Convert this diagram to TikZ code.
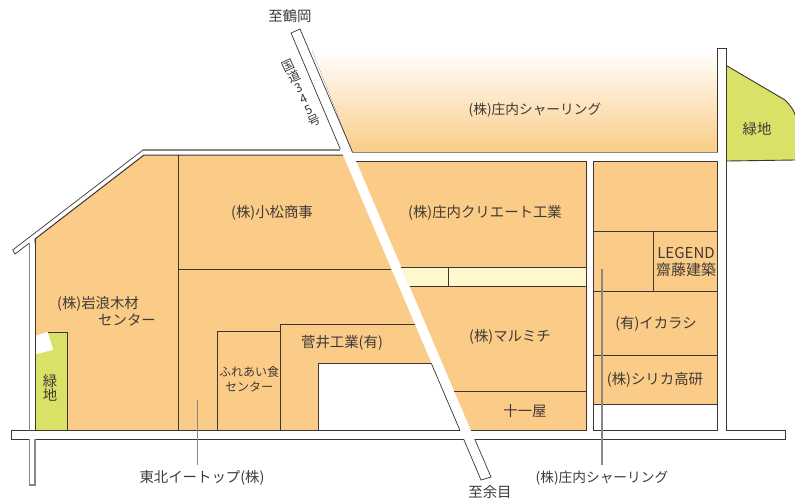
\documentclass[tikz,border=0pt]{standalone}
\usepackage{fontspec}
\usepackage{graphicx}
\setmainfont{Noto Sans CJK JP}
\usetikzlibrary{calc}
\definecolor{plot}{HTML}{FACC87}
\definecolor{band}{HTML}{FFF8CC}
\definecolor{park}{HTML}{D9E166}
\definecolor{ink}{HTML}{3C3531}
\definecolor{edgegray}{HTML}{8C8582}
\definecolor{txt}{HTML}{403A36}
\newcommand{\upch}[1]{\rotatebox[origin=c]{90}{\makebox[14pt]{\rule[-2pt]{0pt}{12pt}#1}}}
\tikzset{
  px/.style={x=1pt,y=-1pt},
  lot/.style={draw=ink,line width=1pt,line join=miter},
  road/.style={draw=ink,line width=0.7pt,line join=miter},
  shade/.style={draw=edgegray,line width=1.5pt},
  lead/.style={draw=edgegray,line width=1.1pt},
  lbl/.style={text=txt,font=\fontsize{14.4}{15}\selectfont,inner sep=0pt,outer sep=0pt,anchor=center},
  sm/.style={lbl,font=\fontsize{12}{13}\selectfont},
  shar/.style={lbl,font=\fontsize{13.7}{15}\selectfont},
}
\begin{document}
\begin{tikzpicture}[px]
\useasboundingbox (0,0) rectangle (795,499);
% gradient lot
\fill[top color=white,bottom color=plot,shading angle=0] (312,50) -- (717.5,50) -- (717.5,152.5) -- (352.6,152.5) -- cycle;
% parks
\fill[park] (726.7,65.7) -- (785,100) .. controls (790,105) and (794,110) .. (795,115) -- (795,160) -- (726.7,161) -- cycle;
\draw[road,line width=0.9pt] (726.7,65.7) -- (785,100) .. controls (790,105) and (794,110) .. (795,115);
\draw[road,line width=0.9pt] (726.7,161) -- (795,160);
% main lots
\fill[plot] (35,239) -- (144,155) -- (342.9,155) -- (460,430.5) -- (35,430.5) -- cycle;
\fill[plot] (356.2,161) -- (586,161) -- (586,430.5) -- (471,430.5) -- cycle;
\fill[plot] (593,161) rectangle (717.7,404.3);
\fill[band] (401.4,267) -- (586,267) -- (586,286) -- (409.5,286) -- cycle;
\fill[park] (35,335.7) -- (47.7,332) -- (67.5,332) -- (67.5,430.5) -- (35,430.5) -- cycle;
\fill[white] (35,335.7) -- (47.7,332) -- (53.3,350) -- (35,354.3) -- cycle;
\fill[white] (318,363.3) -- (431.3,363.3) -- (460,430.5) -- (318,430.5) -- cycle;
% lot lines, left block
\draw[lot] (35,243) -- (35,239) -- (144,155) -- (342.9,155);
\draw[lot] (178,155) -- (178,430.5);
\draw[lot] (178,269) -- (391.3,269);
\draw[lot] (217.5,430.5) -- (217.5,331) -- (280,331);
\draw[lot] (280,430.5) -- (280,324) -- (414.7,324);
\draw[lot] (318,430.5) -- (318,363.3) -- (431.3,363.3);
\draw[lot] (67.5,430.5) -- (67.5,332) -- (47.7,332);
\draw[lot] (35,239) -- (35,430.5);
% lot lines, middle block
\draw[lot] (356.2,161) -- (586,161) -- (586,430.5) -- (471,430.5);
\draw[lot] (401.4,267) -- (586,267);
\draw[lot] (409.5,286) -- (586,286);
\draw[lot] (448,267) -- (448,286);
\draw[lot] (454.2,391) -- (586,391);
% lot lines, right block
\draw[lot] (593,404.3) -- (593,161) -- (717.7,161) -- (717.7,404.3);
\draw[lot] (593,231.7) -- (717.7,231.7);
\draw[lot] (593,291.7) -- (717.7,291.7);
\draw[lot] (593,355) -- (717.7,355);
\draw[lot] (653.7,231.7) -- (653.7,291.7);
\draw[lot] (593,404.3) -- (717.7,404.3);
\draw[road] (593,404.3) -- (593,430.5) -- (717.7,430.5) -- (717.7,404.3);
% road lines
\draw[lot] (35,430.5) -- (460,430.5);
\draw[road] (35,430.5) -- (11.7,430.5) -- (11.7,439) -- (29.5,439);
\draw[road] (35,439) -- (463.6,439);
\draw[road] (474.7,439) -- (785,439) -- (785,430.5) -- (726.7,430.5) -- (726.7,48) -- (717.5,48) -- (717.5,152.5);
\draw[shade] (143,150) -- (340.3,150);
\draw[shade] (352.6,152.5) -- (717.5,152.5);
\draw[road] (143,150) -- (12.7,250) -- (15,254) -- (29.5,243);
\draw[shade,line width=1.2pt] (29.5,243) -- (29.5,430.5);
\draw[shade,line width=1.2pt] (29.5,439) -- (29.5,485) -- (35,485) -- (35,439);
\draw[road] (340.3,149) -- (291,33) -- (300,29) -- (352.6,152.5);
\draw[road] (431.3,363.3) -- (460,430.5);
\draw[road] (463.6,439) -- (481,480) -- (491,477) -- (474.7,439);
% leaders
\coordinate (la) at (197.7,400); \coordinate (lb) at (197.7,465);
\coordinate (lc) at (602,269); \coordinate (ld) at (602,465);
\draw[lead] (la) -- (lb);
\draw[lead] (lc) -- (ld);
% labels
\node[lbl] (t1) at (290,16) {至鶴岡};
\node[lbl,font=\fontsize{12.5}{14}\selectfont,rotate=-65] (r1) at (301.5,93.5) {\upch{国}\upch{道}\upch{3}\upch{4}\upch{5}\upch{号}};
\node[shar] (t2) at (535,110) {(株)庄内シャーリング};
\node[lbl] (t3) at (272,213) {(株)小松商事};
\node[lbl] (t4) at (485,213) {(株)庄内クリエート工業};
\node[lbl] (t5) at (98,304) {(株)岩浪木材};
\node[lbl] (t6) at (127,320) {センター};
\node[sm] (t7) at (249,372) {ふれあい食};
\node[sm] (t8) at (249,387) {センター};
\node[lbl] (t9) at (50,381) {緑};
\node[lbl] (t10) at (50,395) {地};
\node[lbl] (t11) at (202,478) {東北イートップ(株)};
\node[lbl] (t12) at (342,343) {菅井工業(有)};
\node[lbl] (t13) at (510,337) {(株)マルミチ};
\node[lbl] (t14) at (525,411) {十一屋};
\node[lbl] (t15) at (490,492) {至余目};
\node[shar] (t16) at (602,478) {(株)庄内シャーリング};
\node[lbl,font=\fontsize{15}{15}\selectfont] (t17) at (686,253) {LEGEND};
\node[lbl,font=\fontsize{15}{16}\selectfont] (t18) at (686,270) {齋藤建築};
\node[lbl] (t19) at (656,324) {(有)イカラシ};
\node[lbl] (t20) at (655,380) {(株)シリカ高研};
\node[lbl] (t21) at (757,129) {緑地};
\end{tikzpicture}
\end{document}
